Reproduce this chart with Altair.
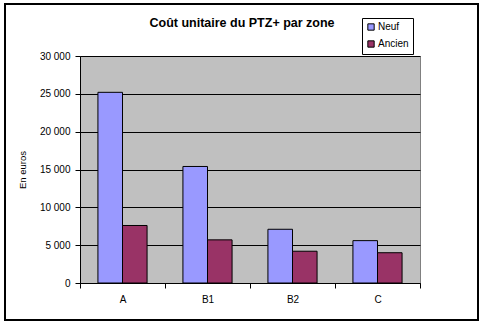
import altair as alt
import pandas as pd

zones = ["A", "B1", "B2", "C"]
neuf = [25200, 15400, 7100, 5600]
ancien = [7600, 5700, 4200, 4000]
series = ["Neuf", "Ancien"]
colors = ["#9999FF", "#993366"]
y_ticks = [0, 5000, 10000, 15000, 20000, 25000, 30000]

rows = []
for z, n, a in zip(zones, neuf, ancien):
    rows.append({"zone": z, "type": "Neuf", "value": n})
    rows.append({"zone": z, "type": "Ancien", "value": a})
df = pd.DataFrame(rows)

FONT = "Liberation Sans"

bars = alt.Chart(df).mark_bar(stroke="black", strokeWidth=1).encode(
    x=alt.X("zone:N", sort=zones, title=None,
            scale=alt.Scale(paddingInner=0, paddingOuter=0),
            axis=alt.Axis(labelAngle=0, tickBand="extent", ticks=True, tickSize=5,
                          tickColor="black", domainColor="black", labelColor="black",
                          labelFontSize=10, labelPadding=6, grid=False, labelFont=FONT)),
    xOffset=alt.XOffset("type:N", sort=series,
                        scale=alt.Scale(paddingOuter=0.73, paddingInner=0)),
    y=alt.Y("value:Q", title="En euros",
            scale=alt.Scale(domain=[0, 30000], nice=False),
            axis=alt.Axis(values=y_ticks, tickSize=5, tickColor="black", domainColor="black",
                          labelColor="black", labelFontSize=10, labelPadding=5, labelFont=FONT,
                          labelExpr="replace(format(datum.value, ','), ',', ' ')",
                          grid=True, gridColor="black", gridOpacity=1, gridWidth=1,
                          titleFont=FONT, titleFontSize=9.5, titleFontWeight="normal",
                          titleColor="black", titlePadding=12)),
    color=alt.Color("type:N", sort=series, title=None,
                    scale=alt.Scale(domain=series, range=colors),
                    legend=alt.Legend(orient="none", legendX=282, legendY=-38,
                                      strokeColor="black", fillColor="white",
                                      padding=4, rowPadding=5, symbolType="square",
                                      symbolSize=40, symbolStrokeColor="black",
                                      symbolStrokeWidth=1, labelFontSize=10,
                                      labelFont=FONT, labelColor="black", labelOffset=2,
                                      cornerRadius=0)),
)

frame = alt.Chart(df).mark_rect(filled=False, stroke="black", strokeWidth=1.5).encode(
    x=alt.value(-75), x2=alt.value(398), y=alt.value(-52), y2=alt.value(264)
)

chart = alt.layer(frame, bars).properties(
    width=340, height=227,
    background="white",
    title=alt.TitleParams("Coût unitaire du PTZ+ par zone", font=FONT, fontSize=12.5,
                          fontWeight="bold", color="black", anchor="middle",
                          dx=-8, offset=-26),
    autosize=alt.AutoSizeParams(type="none"),
    padding={"left": 80, "top": 56, "right": 63, "bottom": 42},
).configure_view(
    fill="#C0C0C0", stroke="#808080", strokeWidth=1
)

chart.save("out.html", embed_options={"renderer": "svg", "actions": False})
